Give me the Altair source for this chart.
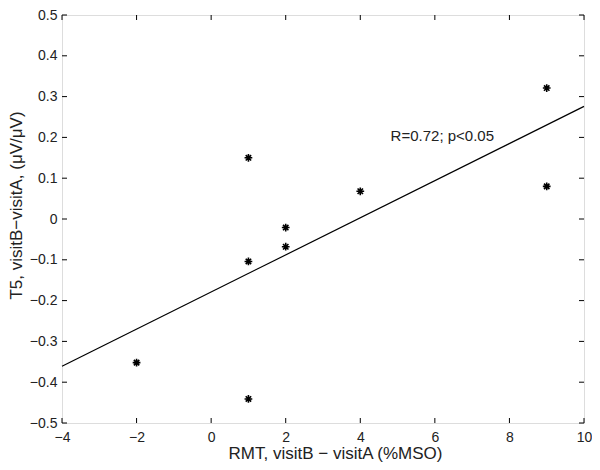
import altair as alt
import pandas as pd

# data
rmt = [-2, 1, 1, 1, 2, 2, 4, 9, 9]
t5 = [-0.352, 0.150, -0.104, -0.441, -0.021, -0.068, 0.068, 0.321, 0.080]
fit_x = [-4, 10]
fit_y = [-0.361, 0.276]
x_ticks = [-4, -2, 0, 2, 4, 6, 8, 10]
y_ticks = [-0.5, -0.4, -0.3, -0.2, -0.1, 0, 0.1, 0.2, 0.3, 0.4, 0.5]
note_text = ["R=0.72; p<0.05"]
note_x = [6.2]
note_y = [0.204]

W, H = 522, 408
TOP, LEFT = 7, 54
FONT = "Liberation Sans"
TXT = "#222222"

pts = pd.DataFrame({"x": rmt, "y": t5})
fit = pd.DataFrame({"x": fit_x, "y": fit_y})
xt = pd.DataFrame({"v": x_ticks})
yt = pd.DataFrame({"v": y_ticks})
note = pd.DataFrame({"x": note_x, "y": note_y, "t": note_text})

xs = alt.Scale(domain=[-4, 10], nice=False, zero=False)
ys = alt.Scale(domain=[-0.5, 0.5], nice=False, zero=False)

xaxis = alt.Axis(values=x_ticks, ticks=False, domain=False, grid=False,
                 labelFont=FONT, labelFontSize=14, labelColor=TXT, labelPadding=7,
                 title="RMT, visitB \u2212 visitA (%MSO)", titleFont=FONT,
                 titleFontSize=17, titleFontWeight="normal", titleColor=TXT,
                 titleBaseline="alphabetic", titleX=W / 2 + 12, titleY=35,
                 labelFlush=False)
yaxis = alt.Axis(values=y_ticks, ticks=False, domain=False, grid=False, format=".1~f",
                 labelFont=FONT, labelFontSize=14, labelColor=TXT, labelPadding=5,
                 title="T5, visitB\u2212visitA, (\u03bcV/\u03bcV)", titleFont=FONT,
                 titleFontSize=17, titleFontWeight="normal", titleColor=TXT,
                 titleX=-37, titleY=190, labelFlush=False)

asterisk = "M-1,0L1,0M0,-1L0,1M-0.7,-0.7L0.7,0.7M-0.7,0.7L0.7,-0.7"

points = alt.Chart(pts).mark_point(shape=asterisk, filled=False, stroke="black",
                                   strokeWidth=1.6, size=60, opacity=1).encode(
    x=alt.X("x:Q", scale=xs, axis=xaxis),
    y=alt.Y("y:Q", scale=ys, axis=yaxis),
)

line = alt.Chart(fit).mark_line(color="black", strokeWidth=1.2).encode(
    x=alt.X("x:Q", scale=xs),
    y=alt.Y("y:Q", scale=ys),
)

text = alt.Chart(note).mark_text(font=FONT, fontSize=15, color=TXT).encode(
    x=alt.X("x:Q", scale=xs), y=alt.Y("y:Q", scale=ys), text="t:N"
)

tick_len = 5
xb = alt.Chart(xt).mark_rule(color="black", strokeWidth=1).encode(
    x=alt.X("v:Q", scale=xs), y=alt.value(H), y2=alt.value(H - tick_len))
xtop = alt.Chart(xt).mark_rule(color="black", strokeWidth=1).encode(
    x=alt.X("v:Q", scale=xs), y=alt.value(0), y2=alt.value(tick_len))
yl = alt.Chart(yt).mark_rule(color="black", strokeWidth=1).encode(
    y=alt.Y("v:Q", scale=ys), x=alt.value(0), x2=alt.value(tick_len))
yr = alt.Chart(yt).mark_rule(color="black", strokeWidth=1).encode(
    y=alt.Y("v:Q", scale=ys), x=alt.value(W - tick_len), x2=alt.value(W))

chart = alt.layer(xb, xtop, yl, yr, line, points, text).properties(
    width=W, height=H,
    autosize=alt.AutoSizeParams(type="none"),
    padding={"left": LEFT, "top": TOP, "right": 8, "bottom": 39},
).configure_view(stroke="black", strokeWidth=1).configure(background="white")

chart.save("out.html", embed_options={"renderer": "svg", "actions": False})
